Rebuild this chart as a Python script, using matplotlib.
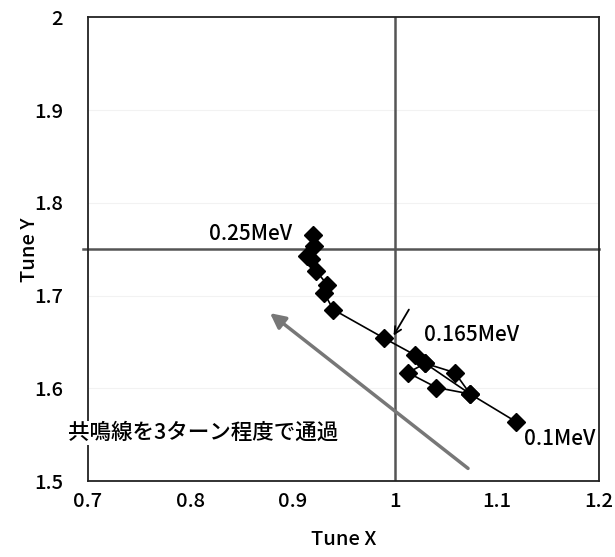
import matplotlib
matplotlib.use("Agg")
import matplotlib.pyplot as plt

plt.rcParams['font.family'] = ['Noto Sans CJK JP', 'DejaVu Sans']
plt.rcParams['font.weight'] = 'medium'

# tune path (0.25MeV -> 0.1MeV)
tune_x = [0.920, 0.921, 0.914, 0.918, 0.923, 0.934, 0.931, 0.940, 0.990,
          1.020, 1.030, 1.059, 1.074, 1.041, 1.013, 1.030, 1.074, 1.119]
tune_y = [1.765, 1.754, 1.743, 1.739, 1.727, 1.712, 1.703, 1.685, 1.654,
          1.636, 1.627, 1.617, 1.594, 1.601, 1.617, 1.627, 1.594, 1.564]

resonance_x = 1.0
resonance_y = 1.75

xticks = [0.7, 0.8, 0.9, 1.0, 1.1, 1.2]
xtick_labels = ['0.7', '0.8', '0.9', '1', '1.1', '1.2']
yticks = [1.5, 1.6, 1.7, 1.8, 1.9, 2.0]
ytick_labels = ['1.5', '1.6', '1.7', '1.8', '1.9', '2']

fig = plt.figure(figsize=(6.15, 5.57), dpi=100)
ax = fig.add_axes([0.143, 0.136, 0.831, 0.833])

ax.set_xlim(0.7, 1.2)
ax.set_ylim(1.5, 2.0)

for y in yticks[1:-1]:
    ax.axhline(y, color='#f2f2f2', lw=0.8, zorder=0)

ax.plot([resonance_x, resonance_x], [1.5, 2.0], color='#555555', lw=1.8, zorder=1)
ax.plot([0.695, 1.2], [resonance_y, resonance_y], color='#555555', lw=1.8,
        zorder=1, clip_on=False)

ax.plot(tune_x, tune_y, color='black', lw=1.2, marker='D', markersize=9.5,
        markerfacecolor='black', markeredgecolor='black', zorder=3)

# big gray arrow
ax.annotate('', xy=(0.876, 1.683), xytext=(1.074, 1.512),
            arrowprops=dict(arrowstyle='-|>,head_length=0.9,head_width=0.45',
                            color='#777777', lw=2.5))
# 0.165MeV pointer
ax.annotate('', xy=(0.999, 1.657), xytext=(1.014, 1.685),
            arrowprops=dict(arrowstyle='->,head_length=0.5,head_width=0.25',
                            color='black', lw=1.3, shrinkA=0, shrinkB=0))

ax.text(0.818, 1.766, '0.25MeV', fontsize=15, fontweight='medium', ha='left', va='center')
ax.text(1.029, 1.658, '0.165MeV', fontsize=15, fontweight='medium', ha='left', va='center')
ax.text(1.127, 1.545, '0.1MeV', fontsize=15, fontweight='medium', ha='left', va='center')
ax.text(0.6805, 1.552, '共鳴線を3ターン程度で通過', fontsize=15.5, fontweight='medium',
        ha='left', va='center',
        bbox=dict(facecolor='white', edgecolor='none', pad=1), zorder=5)

ax.set_xticks(xticks)
ax.set_xticklabels(xtick_labels, fontsize=14.5, fontweight='medium')
ax.set_yticks(yticks)
ax.set_yticklabels(ytick_labels, fontsize=14.5, fontweight='medium')
ax.tick_params(axis='x', length=0, pad=8)
ax.tick_params(axis='y', length=0, pad=18)
ax.set_xlabel('Tune X', fontsize=14.5, fontweight='medium')
ax.set_ylabel('Tune Y', fontsize=14.5, fontweight='medium')
ax.xaxis.set_label_coords(0.5, -0.105)
ax.yaxis.set_label_coords(-0.095, 0.5)

for s in ax.spines.values():
    s.set_linewidth(1.3)
    s.set_color('#222222')

fig.savefig('out.png', dpi=100)
